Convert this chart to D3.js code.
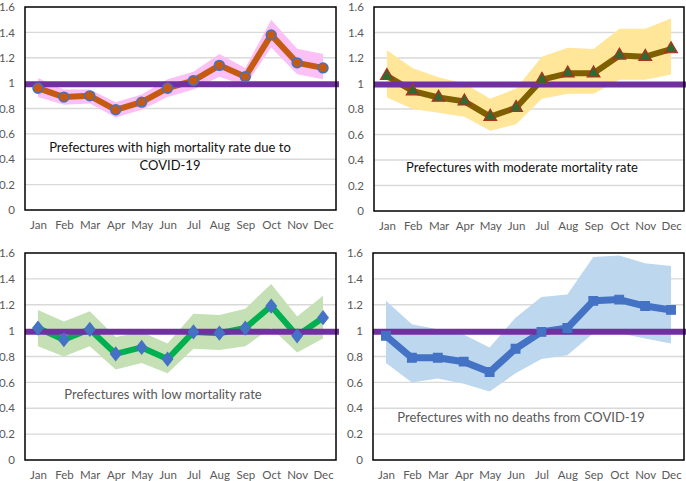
<!DOCTYPE html>
<html>
<head>
<meta charset="utf-8">
<script src="https://cdn.jsdelivr.net/npm/d3@7"></script>
<style>
  html, body { margin: 0; padding: 0; background: #fff; }
  svg { display: block; }
</style>
</head>
<body>
<svg id="chart" width="686" height="481"></svg>
<script>
const months = ["Jan","Feb","Mar","Apr","May","Jun","Jul","Aug","Sep","Oct","Nov","Dec"];
const yTicks = [0, 0.2, 0.4, 0.6, 0.8, 1, 1.2, 1.4, 1.6];
const referenceLevel = 1;

const highValues = [0.96, 0.89, 0.90, 0.79, 0.85, 0.96, 1.02, 1.14, 1.05, 1.38, 1.16, 1.12];
const highUpper  = [1.04, 0.95, 0.95, 0.85, 0.91, 1.03, 1.09, 1.23, 1.12, 1.50, 1.27, 1.23];
const highLower  = [0.89, 0.83, 0.84, 0.73, 0.79, 0.89, 0.95, 1.05, 0.98, 1.28, 1.07, 1.03];

const moderateValues = [1.06, 0.94, 0.89, 0.86, 0.74, 0.81, 1.03, 1.08, 1.08, 1.22, 1.21, 1.27];
const moderateUpper  = [1.26, 1.12, 1.05, 1.00, 0.88, 0.96, 1.21, 1.28, 1.27, 1.43, 1.43, 1.51];
const moderateLower  = [0.89, 0.80, 0.77, 0.74, 0.63, 0.68, 0.88, 0.92, 0.92, 1.03, 1.03, 1.07];

const lowValues = [1.02, 0.93, 1.01, 0.82, 0.87, 0.78, 0.99, 0.98, 1.02, 1.19, 0.96, 1.10];
const lowUpper  = [1.16, 1.07, 1.15, 0.95, 0.99, 0.90, 1.13, 1.12, 1.17, 1.36, 1.11, 1.27];
const lowLower  = [0.88, 0.80, 0.88, 0.70, 0.75, 0.67, 0.86, 0.85, 0.88, 1.02, 0.83, 0.94];

const noneValues = [0.96, 0.79, 0.79, 0.76, 0.68, 0.86, 0.99, 1.02, 1.23, 1.24, 1.19, 1.16];
const noneUpper  = [1.23, 1.05, 1.01, 0.97, 0.87, 1.10, 1.26, 1.28, 1.57, 1.58, 1.52, 1.50];
const noneLower  = [0.75, 0.60, 0.63, 0.59, 0.53, 0.67, 0.78, 0.81, 0.98, 0.98, 0.94, 0.90];

const panels = [
  { x0: 25, x1: 336, y0: 7, y1: 210, values: highValues, upper: highUpper, lower: highLower,
    band: "#FBC0F5", line: "#C55A11", marker: "circle", mFill: "#C55A11", mStroke: "#4472C4",
    label: ["Prefectures with high mortality rate due to", "COVID-19"], lx: 170, ly: 147, lcolor: "#111" },
  { x0: 374, x1: 684, y0: 7, y1: 211, values: moderateValues, upper: moderateUpper, lower: moderateLower,
    band: "#FFE699", line: "#7F6000", marker: "triangle", mFill: "#2E6B30", mStroke: "#B03020",
    label: ["Prefectures with moderate mortality rate"], lx: 522, ly: 167, lcolor: "#111" },
  { x0: 25, x1: 336, y0: 253, y1: 460, values: lowValues, upper: lowUpper, lower: lowLower,
    band: "#C5E0B4", line: "#00B050", marker: "diamond", mFill: "#4472C4", mStroke: "#4472C4",
    label: ["Prefectures with low mortality rate"], lx: 163, ly: 394, lcolor: "#595959" },
  { x0: 373, x1: 684, y0: 253, y1: 460, values: noneValues, upper: noneUpper, lower: noneLower,
    band: "#BDD7EE", line: "#4472C4", marker: "square", mFill: "#4472C4", mStroke: "#4472C4",
    label: ["Prefectures with no deaths from COVID-19"], lx: 521, ly: 417, lcolor: "#595959" }
];

const svg = d3.select("#chart");
const font = "Lato, 'Open Sans', sans-serif";

panels.forEach(p => {
  const x = d3.scalePoint().domain(months).range([p.x0, p.x1]).padding(0.5);
  const y = d3.scaleLinear().domain([0, 1.6]).range([p.y1, p.y0]);
  const g = svg.append("g");

  // gridlines
  g.selectAll("line.grid").data(yTicks.filter(t => t > 0 && t < 1.6)).enter().append("line")
    .attr("x1", p.x0).attr("x2", p.x1)
    .attr("y1", d => y(d)).attr("y2", d => y(d))
    .attr("stroke", "#D9D9D9").attr("stroke-width", 1.3);

  // y axis
  const yAxis = d3.axisLeft(y).tickValues(yTicks).tickSize(0).tickPadding(10)
    .tickFormat(d => d3.format("")(+d.toFixed(1)));
  const ya = g.append("g").attr("transform", `translate(${p.x0},0)`).call(yAxis);
  ya.select(".domain").remove();
  ya.selectAll("text").attr("fill", "#595959").style("font-size", "11.5px").style("font-family", font);

  // x axis
  const xAxis = d3.axisBottom(x).tickSize(0).tickPadding(11);
  const xa = g.append("g").attr("transform", `translate(0,${p.y1})`).call(xAxis);
  xa.select(".domain").remove();
  xa.selectAll("text").attr("fill", "#595959").style("font-size", "11.5px").style("font-family", font);

  // band
  const idx = d3.range(months.length);
  const area = d3.area()
    .x(i => x(months[i]))
    .y0(i => y(p.lower[i]))
    .y1(i => y(p.upper[i]));
  g.append("path").datum(idx).attr("d", area).attr("fill", p.band);

  // series line
  const line = d3.line().x(i => x(months[i])).y(i => y(p.values[i]));
  g.append("path").datum(idx).attr("d", line)
    .attr("fill", "none").attr("stroke", p.line)
    .attr("stroke-width", p.marker === "square" ? 7 : 6)
    .attr("stroke-linejoin", "round");

  // reference line
  g.append("line")
    .attr("x1", p.x0).attr("x2", p.x1 + (p.x0 < 100 ? 3 : 2))
    .attr("y1", y(referenceLevel) + 1).attr("y2", y(referenceLevel) + 1)
    .attr("stroke", "#7030A0").attr("stroke-width", 6);

  // markers
  const symType = { circle: d3.symbolCircle, triangle: d3.symbolTriangle, diamond: d3.symbolDiamond, square: d3.symbolSquare }[p.marker];
  const symSize = { circle: 75, triangle: 70, diamond: 70, square: 75 }[p.marker];
  const sym = d3.symbol().type(symType).size(symSize);
  g.selectAll("path.mk").data(idx).enter().append("path")
    .attr("transform", i => `translate(${x(months[i])},${y(p.values[i])})` + (p.marker === "diamond" ? " scale(1.15,0.85)" : ""))
    .attr("d", sym)
    .attr("fill", p.mFill).attr("stroke", p.mStroke).attr("stroke-width", p.marker === "circle" ? 1.6 : 1.2);

  // border
  g.append("rect")
    .attr("x", p.x0).attr("y", p.y0)
    .attr("width", p.x1 - p.x0).attr("height", p.y1 - p.y0)
    .attr("fill", "none").attr("stroke", "#000").attr("stroke-width", 1.5);

  // label
  const t = g.append("text").attr("text-anchor", "middle")
    .attr("fill", p.lcolor).style("font-family", font).style("font-size", "13px");
  p.label.forEach((s, k) => {
    t.append("tspan").attr("x", p.lx).attr("y", p.ly + k * 18).attr("dy", "0.35em").text(s);
  });
});
</script>
</body>
</html>
